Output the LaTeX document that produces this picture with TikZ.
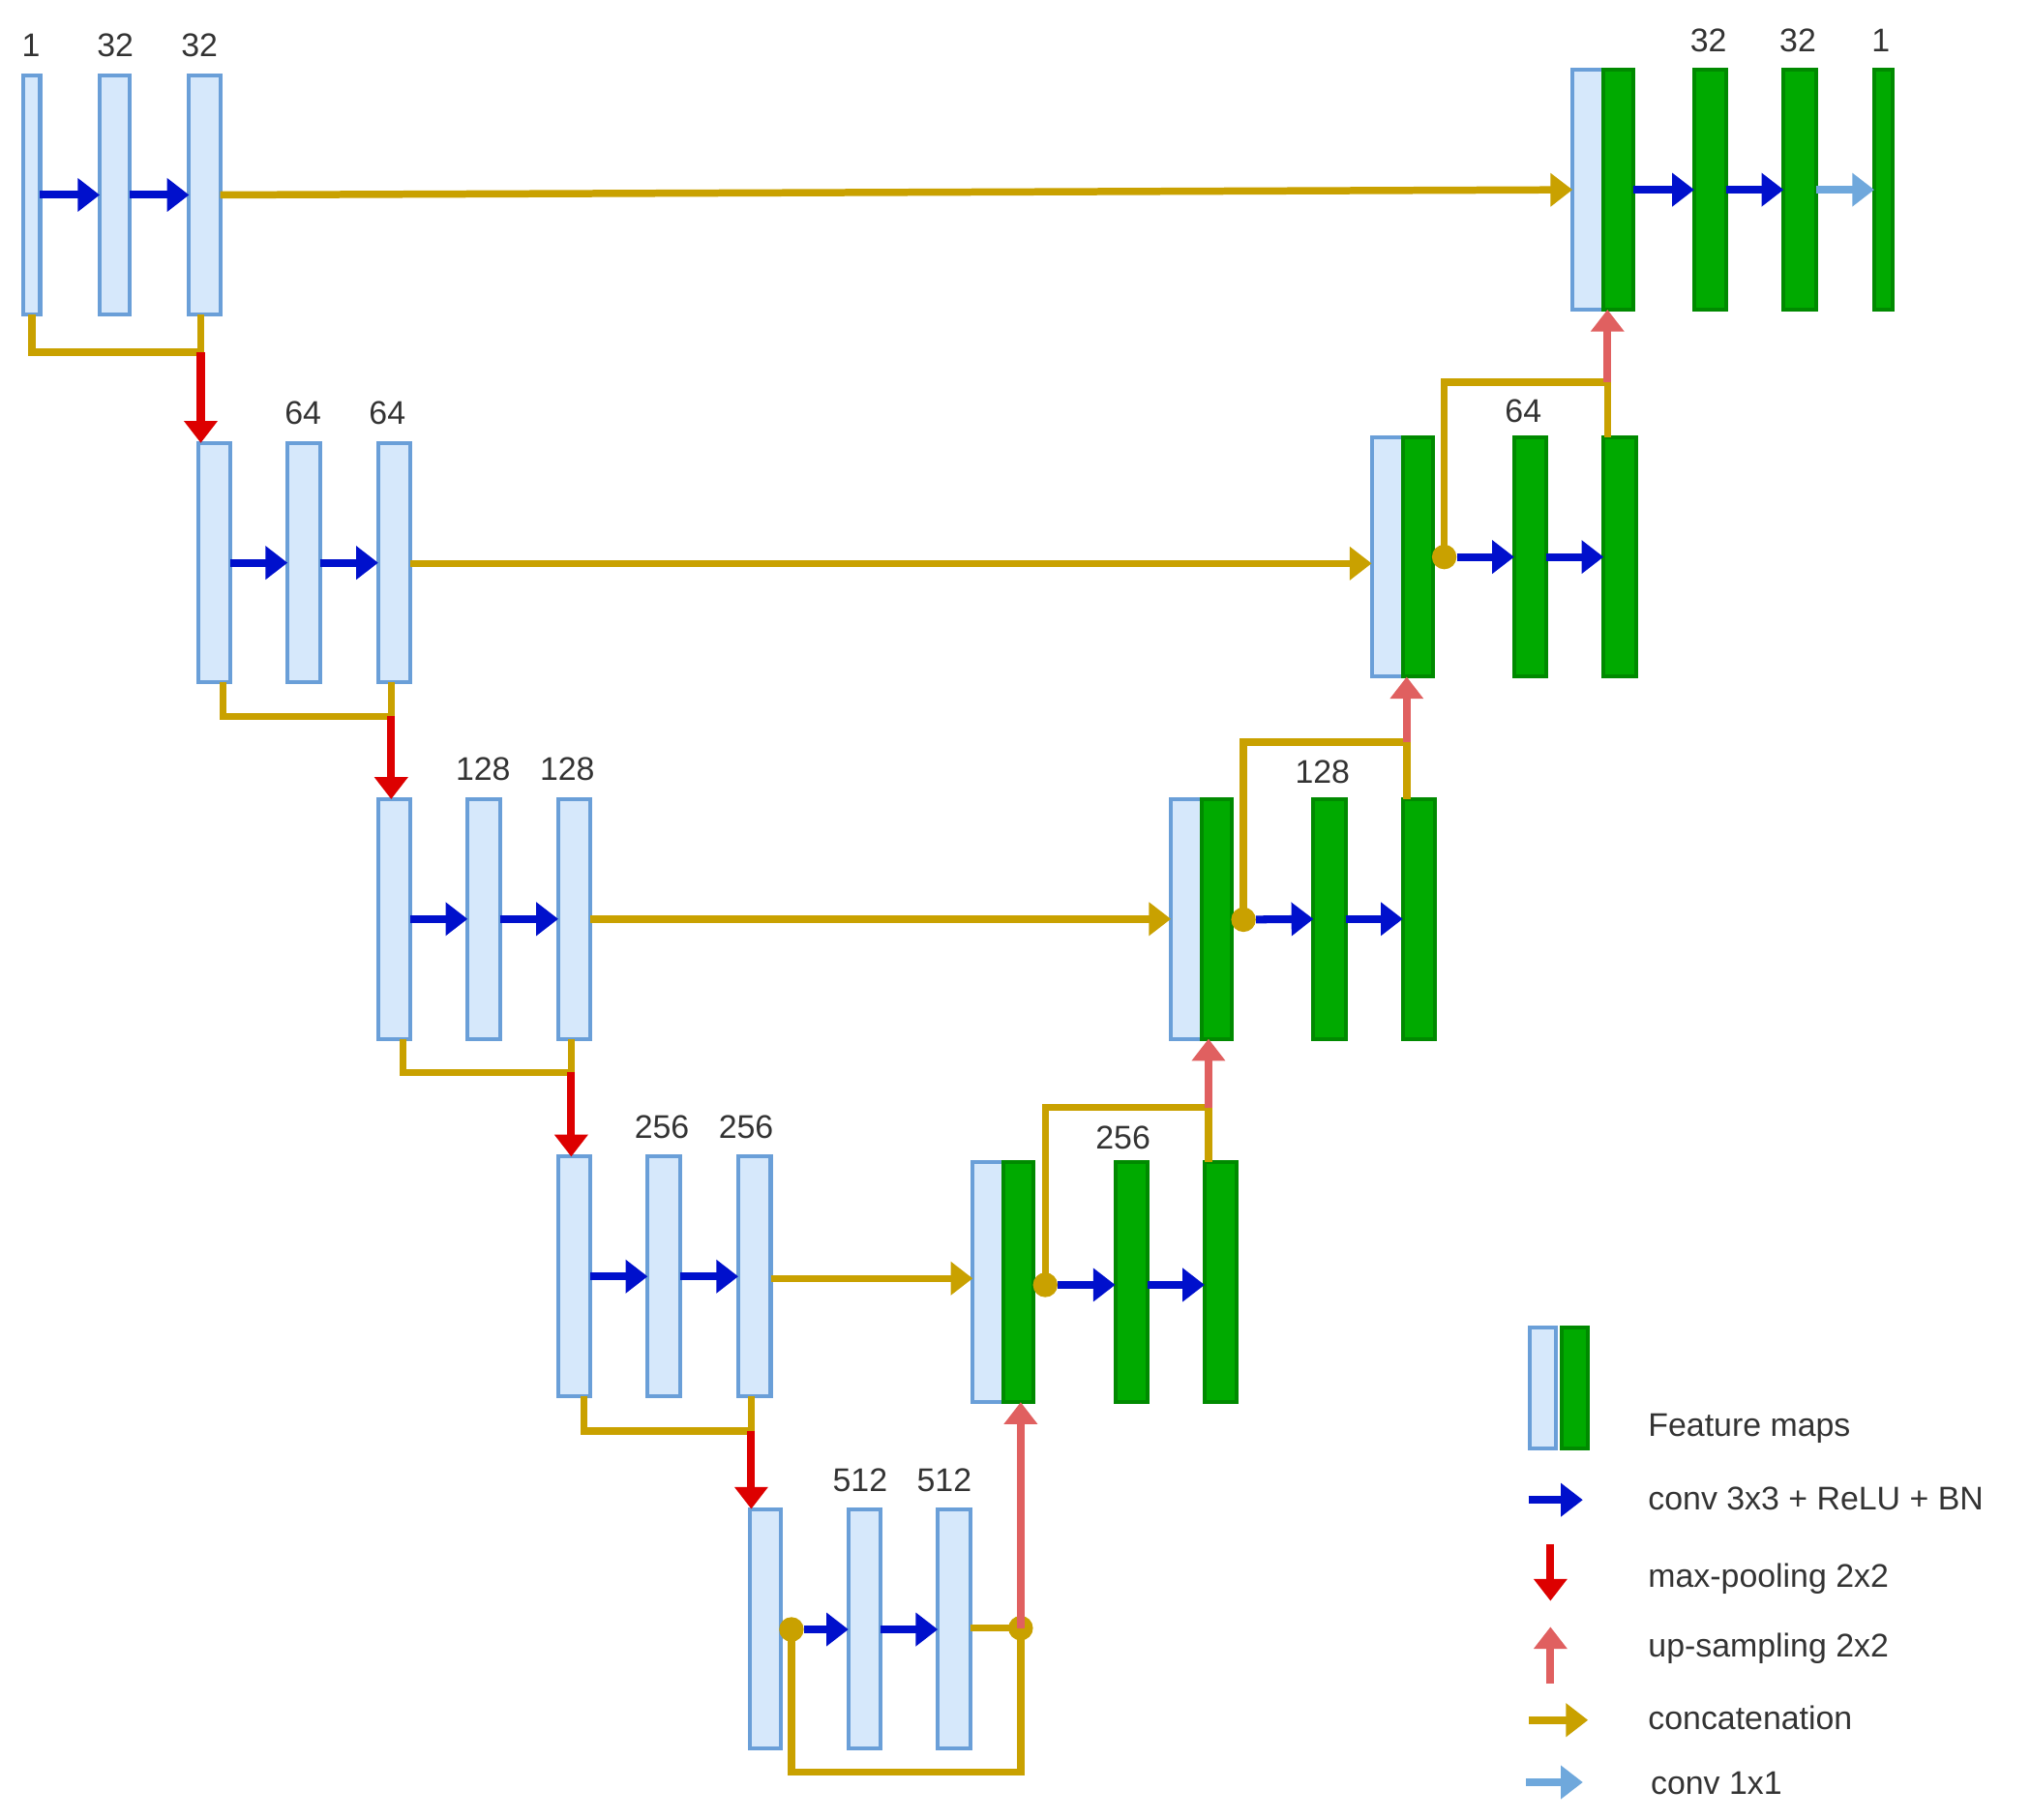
\documentclass[tikz,border=0pt]{standalone}
\usepackage{fontspec}
\setmainfont{Liberation Sans}
\usetikzlibrary{arrows.meta}
\definecolor{lfill}{HTML}{D6E8FB}
\definecolor{lborder}{HTML}{6A9FD8}
\definecolor{gfill}{HTML}{00AA00}
\definecolor{gborder}{HTML}{008A00}
\definecolor{cblue}{HTML}{0010CC}
\definecolor{cred}{HTML}{DD0000}
\definecolor{cup}{HTML}{E06060}
\definecolor{cgold}{HTML}{C9A100}
\definecolor{clblue}{HTML}{6FA8DC}
\begin{document}
\begin{tikzpicture}[x=0.05cm,y=-0.05cm,
  lb/.style={draw=lborder,fill=lfill,line width=0.15cm,inner sep=0,outer sep=0,minimum height=9.25cm},
  gb/.style={draw=gborder,fill=gfill,line width=0.15cm,inner sep=0,outer sep=0,minimum height=9.25cm},
  tip/.style={-{Triangle[length=0.85cm,width=1.25cm]}},
  conv/.style={tip,draw=cblue,line width=0.3cm},
  pool/.style={tip,draw=cred,line width=0.3cm},
  up/.style={tip,draw=cup,line width=0.3cm},
  cat/.style={draw=cgold,line width=0.28cm},
  catar/.style={cat,tip},
  c11/.style={tip,draw=clblue,line width=0.3cm},
  dot/.style={circle,fill=cgold,inner sep=0,minimum size=0.95cm},
  lab/.style={font=\fontsize{36}{40}\selectfont,text=black!80},
  leg/.style={font=\fontsize{36}{40}\selectfont,text=black!80,anchor=west}]
\useasboundingbox (0,0) rectangle (1568,1405);
% ---------- level 1
\node[lb,minimum width=0.65cm] (e11) at (24.5,150.5) {};
\node[lb,minimum width=1.15cm] (e12) at (88.5,150.5) {};
\node[lb,minimum width=1.2cm] (e13) at (158,150.5) {};
\node[lab] at (24,35) {1};
\node[lab] at (89,35) {32};
\node[lab] at (154,35) {32};
\draw[conv] (e11.east) -- (e12.west);
\draw[conv] (e12.east) -- (e13.west);
\node[lb,minimum width=1.2cm] (d1a) at (1226,146.5) {};
\node[gb,minimum width=1.15cm] (d1b) at (1249.5,146.5) {};
\node[gb,minimum width=1.25cm] (d12) at (1320.5,146.5) {};
\node[gb,minimum width=1.25cm] (d13) at (1389.5,146.5) {};
\node[gb,minimum width=0.7cm] (d14) at (1454,146.5) {};
\node[lab] at (1319,31) {32};
\node[lab] at (1388,31) {32};
\node[lab] at (1452,31) {1};
\draw[conv] (d1b.east) -- (d12.west);
\draw[conv] (d12.east) -- (d13.west);
\draw[c11] (d13.east) -- (d14.west);
\draw[catar] (e13.east) -- (d1a.west);
\coordinate (b1) at (155,272);
\draw[cat] (e11.south) |- (b1) -- (e13.south -| b1);
% ---------- level 2
\node[lb,minimum width=1.25cm] (e21) at (165.5,434.5) {};
\node[lb,minimum width=1.25cm] (e22) at (234.5,434.5) {};
\node[lb,minimum width=1.25cm] (e23) at (304.5,434.5) {};
\node[lab] at (234,319) {64};
\node[lab] at (299,319) {64};
\draw[pool] (b1) -- (e21.north -| b1);
\draw[conv] (e21.east) -- (e22.west);
\draw[conv] (e22.east) -- (e23.west);
\node[lb,minimum width=1.2cm] (d2a) at (1071,430) {};
\node[gb,minimum width=1.15cm] (d2b) at (1094.5,430) {};
\node[gb,minimum width=1.25cm] (d22) at (1181.5,430) {};
\node[gb,minimum width=1.25cm] (d23) at (1250.5,430) {};
\node[lab] at (1176,317) {64};
\node[dot] (p2) at (1115,430) {};
\draw[conv] (p2) -- (d22.west);
\draw[conv] (d22.east) -- (d23.west);
\draw[catar] (e23.east |- 0,435) -- (d2a.west |- 0,435);
\coordinate (s2) at (1241,295);
\draw[cat] (p2.center) |- (s2) -- (d23.north -| s2);
\draw[up] (s2) -- (d1a.south -| s2);
\coordinate (b2) at (302,553);
\draw[cat] (e21.south -| 172,0) |- (b2) -- (e23.south -| b2);
% ---------- level 3
\node[lb,minimum width=1.25cm] (e31) at (304.5,709.5) {};
\node[lb,minimum width=1.25cm] (e32) at (373.5,709.5) {};
\node[lb,minimum width=1.25cm] (e33) at (443.5,709.5) {};
\node[lab] at (373,594) {128};
\node[lab] at (438,594) {128};
\draw[pool] (b2) -- (e31.north -| b2);
\draw[conv] (e31.east) -- (e32.west);
\draw[conv] (e32.east) -- (e33.west);
\node[lb,minimum width=1.2cm] (d3a) at (916,709.5) {};
\node[gb,minimum width=1.15cm] (d3b) at (939.5,709.5) {};
\node[gb,minimum width=1.25cm] (d32) at (1026.5,709.5) {};
\node[gb,minimum width=1.25cm] (d33) at (1095.5,709.5) {};
\node[lab] at (1021,596) {128};
\node[dot] (p3) at (960,710) {};
\draw[conv] (p3) -- (d32.west);
\draw[conv] (d32.east) -- (d33.west);
\draw[catar] (e33.east) -- (d3a.west);
\coordinate (s3) at (1086,573);
\draw[cat] (p3.center) |- (s3) -- (d33.north -| s3);
\draw[up] (s3) -- (d2a.south -| s3);
\coordinate (b3) at (441,828);
\draw[cat] (e31.south -| 311,0) |- (b3) -- (e33.south -| b3);
% ---------- level 4
\node[lb,minimum width=1.25cm] (e41) at (443.5,985.5) {};
\node[lb,minimum width=1.25cm] (e42) at (512.5,985.5) {};
\node[lb,minimum width=1.25cm] (e43) at (582.5,985.5) {};
\node[lab] at (511,870) {256};
\node[lab] at (576,870) {256};
\draw[pool] (b3) -- (e41.north -| b3);
\draw[conv] (e41.east) -- (e42.west);
\draw[conv] (e42.east) -- (e43.west);
\node[lb,minimum width=1.2cm] (d4a) at (763,990) {};
\node[gb,minimum width=1.15cm] (d4b) at (786.5,990) {};
\node[gb,minimum width=1.25cm] (d42) at (873.5,990) {};
\node[gb,minimum width=1.25cm] (d43) at (942.5,990) {};
\node[lab] at (867,878) {256};
\node[dot] (p4) at (807,992) {};
\draw[conv] (p4) -- (d42.west |- p4);
\draw[conv] (d42.east |- p4) -- (d43.west |- p4);
\draw[catar] (e43.east |- 0,987) -- (d4a.west |- 0,987);
\coordinate (s4) at (933,855);
\draw[cat] (p4.center) |- (s4) -- (d43.north -| s4);
\draw[up] (s4) -- (d3a.south -| s4);
\coordinate (b4) at (580,1105);
\draw[cat] (e41.south -| 451,0) |- (b4) -- (e43.south -| b4);
% ---------- level 5
\node[lb,minimum width=1.2cm] (e51) at (591,1257.5) {};
\node[lb,minimum width=1.25cm] (e52) at (667.5,1257.5) {};
\node[lb,minimum width=1.25cm] (e53) at (736.5,1257.5) {};
\node[lab] at (664,1143) {512};
\node[lab] at (729,1143) {512};
\draw[pool] (b4) -- (e51.north -| b4);
\node[dot] (p5) at (611,1258) {};
\node[dot] (q5) at (788,1257) {};
\draw[conv] (p5) -- (e52.west |- p5);
\draw[conv] (e52.east |- p5) -- (e53.west |- p5);
\draw[cat] (e53.east |- q5) -- (q5.center);
\coordinate (l5) at (611,1368);
\draw[cat] (p5.center) -- (l5) -| (q5.center);
\draw[up] (q5.center) -- (d4a.south -| q5);
% ---------- legend
\node[lb,minimum width=1cm,minimum height=4.65cm] (lg1) at (1191,1071.5) {};
\node[gb,minimum width=1cm,minimum height=4.65cm] (lg2) at (1216,1071.5) {};
\node[leg] (t1) at (1270,1103) {Feature maps};
\coordinate (a1) at (1180,1158); \coordinate (a1e) at (1222,1158);
\draw[conv] (a1) -- (a1e);
\node[leg] at (1270,1157) {conv 3x3 + ReLU + BN};
\coordinate (a2) at (1197,1192); \coordinate (a2e) at (1197,1236);
\draw[pool] (a2) -- (a2e);
\node[leg] at (1270,1219) {max-pooling 2x2};
\coordinate (a3) at (1197,1300); \coordinate (a3e) at (1197,1256);
\draw[up] (a3) -- (a3e);
\node[leg] at (1270,1273) {up-sampling 2x2};
\coordinate (a4) at (1180,1328); \coordinate (a4e) at (1226,1328);
\draw[catar] (a4) -- (a4e);
\node[leg] at (1270,1326) {concatenation};
\coordinate (a5) at (1178,1376); \coordinate (a5e) at (1222,1376);
\draw[c11] (a5) -- (a5e);
\node[leg] at (1272,1377) {conv 1x1};
\end{tikzpicture}
\end{document}
